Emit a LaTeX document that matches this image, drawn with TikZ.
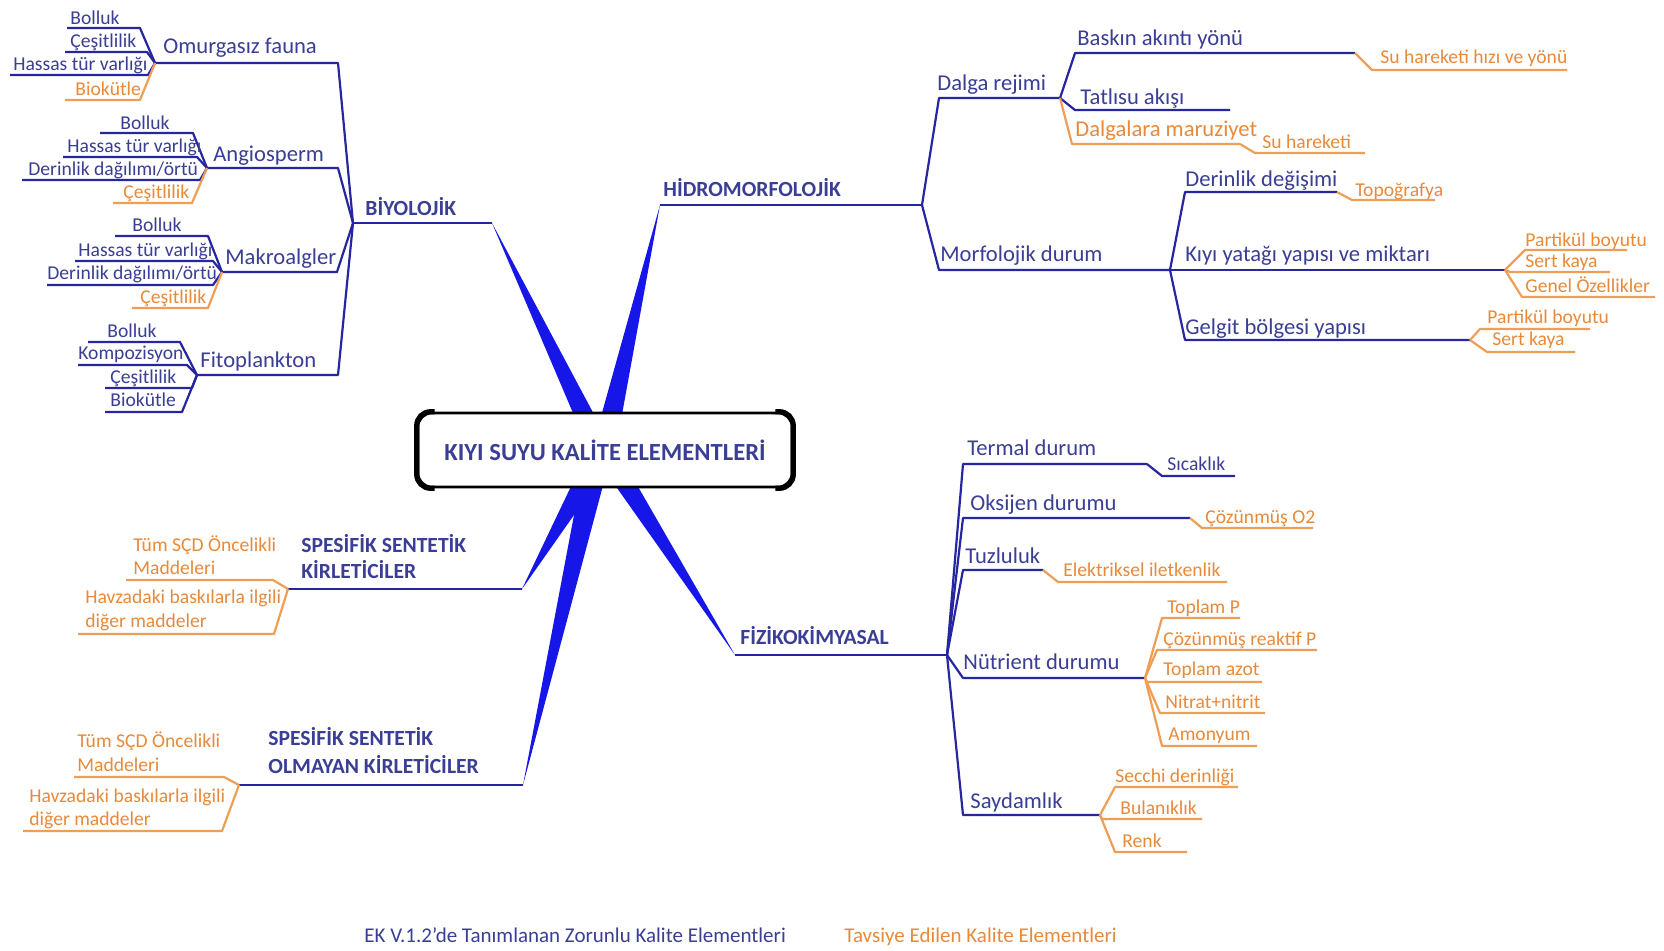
\documentclass[tikz,border=0pt]{standalone}
\usepackage{fontspec}
\setmainfont{Carlito}
\definecolor{tb}{RGB}{58,62,148}
\definecolor{to}{RGB}{232,138,58}
\definecolor{lb}{RGB}{38,38,160}
\definecolor{lo}{RGB}{238,158,85}
\definecolor{wb}{RGB}{22,22,232}
\tikzset{
  lab/.style={inner sep=0pt, anchor=base west},
  bigb/.style={lab, font=\fontsize{11.3}{13}\selectfont, text=tb},
  bigo/.style={lab, font=\fontsize{11.3}{13}\selectfont, text=to},
  smb/.style={lab, font=\fontsize{9.8}{12}\selectfont, text=tb},
  smo/.style={lab, font=\fontsize{9.8}{12}\selectfont, text=to},
  topb/.style={lab, font=\bfseries\fontsize{10.8}{13}\selectfont, text=tb},
  bigb-l/.style={draw=lb, line width=1.1pt, line join=round},
  smb-l/.style={draw=lb, line width=1.1pt, line join=round},
  topb-l/.style={draw=lb, line width=1.1pt, line join=round},
  bigo-l/.style={draw=lo, line width=1.1pt, line join=round},
  smo-l/.style={draw=lo, line width=1.1pt, line join=round},
  wedge/.style={fill=wb},
  legend/.style={inner sep=0pt, anchor=base west, font=\fontsize{10.5}{12}\selectfont}
}
\newcommand\leftitem[9]{%
  \node[#2] (#1) at (#4,#5) {#6};
  \coordinate (#1-a) at (#7,#9);
  \coordinate (#1-b) at (#8,#9);
  \draw[#2-l] (#3) -- (#1-b) -- (#1-a);
}
\newcommand\rightitem[9]{%
  \node[#2] (#1) at (#4,#5) {#6};
  \coordinate (#1-a) at (#7,#9);
  \coordinate (#1-b) at (#8,#9);
  \draw[#2-l] (#3) -- (#1-a) -- (#1-b);
}
\begin{document}
\begin{tikzpicture}[x=0.5pt,y=-0.5pt]
\fill[white] (0,0) rectangle (1664,950);
\path[use as bounding box] (0,0) rectangle (1664,950);

% ---------- BIYOLOJIK ----------
\leftitem{bio}{topb}{bio-b}{365}{215}{BİYOLOJİK}{353}{492}{223}
\leftitem{omu}{bigb}{bio-a}{163}{53}{Omurgasız fauna}{155}{338}{63}
\leftitem{omu1}{smb}{omu-a}{70}{24}{Bolluk}{67}{140}{28}
\leftitem{omu2}{smb}{omu-a}{70}{47}{Çeşitlilik}{65}{147}{52}
\leftitem{omu3}{smb}{omu-a}{13}{70}{Hassas tür varlığı}{10}{148}{75}
\leftitem{omu4}{smo}{omu-a}{75}{95}{Biokütle}{65}{140}{100}

\leftitem{ang}{bigb}{bio-a}{213}{161}{Angiosperm}{207}{338}{168}
\leftitem{ang1}{smb}{ang-a}{120}{129}{Bolluk}{100}{193}{133}
\leftitem{ang2}{smb}{ang-a}{67}{152}{Hassas tür varlığı}{63}{197}{157}
\leftitem{ang3}{smb}{ang-a}{28}{175}{Derinlik dağılımı/örtü}{22}{200}{180}
\leftitem{ang4}{smo}{ang-a}{123}{198}{Çeşitlilik}{113}{192}{203}

\leftitem{mak}{bigb}{bio-a}{225}{264}{Makroalgler}{222}{337}{272}
\leftitem{mak1}{smb}{mak-a}{132}{231}{Bolluk}{115}{208}{236}
\leftitem{mak2}{smb}{mak-a}{78}{256}{Hassas tür varlığı}{75}{213}{261}
\leftitem{mak3}{smb}{mak-a}{47}{279}{Derinlik dağılımı/örtü}{47}{213}{285}
\leftitem{mak4}{smo}{mak-a}{140}{303}{Çeşitlilik}{132}{208}{308}

\leftitem{fit}{bigb}{bio-a}{200}{367}{Fitoplankton}{197}{338}{375}
\leftitem{fit1}{smb}{fit-a}{107}{337}{Bolluk}{88}{180}{342}
\leftitem{fit2}{smb}{fit-a}{78}{359}{Kompozisyon}{78}{187}{365}
\leftitem{fit3}{smb}{fit-a}{110}{383}{Çeşitlilik}{105}{192}{388}
\leftitem{fit4}{smb}{fit-a}{110}{406}{Biokütle}{105}{182}{412}

% ---------- SPESIFIK 1 ----------
\node[topb] (s1t) at (301,552) {SPESİFİK SENTETİK};
\leftitem{s1}{topb}{s1-b}{301}{578}{KİRLETİCİLER}{288}{522}{589}
\node[smo] (s1c1t) at (133,551) {Tüm SÇD Öncelikli};
\leftitem{s1c1}{smo}{s1-a}{133}{574}{Maddeleri}{126}{273}{580}
\node[smo] (s1c2t) at (85,603) {Havzadaki baskılarla ilgili};
\leftitem{s1c2}{smo}{s1-a}{85}{627}{diğer maddeler}{78}{274}{634}

% ---------- SPESIFIK 2 ----------
\node[topb] (s2t) at (268,745) {SPESİFİK SENTETİK};
\leftitem{s2}{topb}{s2-b}{268}{773}{OLMAYAN KİRLETİCİLER}{239}{523}{785}
\node[smo] (s2c1t) at (77,747) {Tüm SÇD Öncelikli};
\leftitem{s2c1}{smo}{s2-a}{77}{771}{Maddeleri}{74}{224}{777}
\node[smo] (s2c2t) at (29,802) {Havzadaki baskılarla ilgili};
\leftitem{s2c2}{smo}{s2-a}{29}{825}{diğer maddeler}{23}{222}{831}

% ---------- HIDROMORFOLOJIK ----------
\rightitem{hid}{topb}{hid-a}{663}{196}{HİDROMORFOLOJİK}{660}{922}{205}
\rightitem{dal}{bigb}{hid-b}{937}{90}{Dalga rejimi}{939}{1060}{98}
\rightitem{bas}{bigb}{dal-b}{1077}{45}{Baskın akıntı yönü}{1075}{1355}{53}
\rightitem{shy}{smo}{bas-b}{1380}{63}{Su hareketi hızı ve yönü}{1372}{1567}{70}
\rightitem{tat}{bigb}{dal-b}{1080}{104}{Tatlısu akışı}{1075}{1230}{110}
\rightitem{dmz}{bigo}{dal-b}{1075}{136}{Dalgalara maruziyet}{1072}{1240}{144}
\rightitem{shr}{smo}{dmz-b}{1262}{148}{Su hareketi}{1255}{1365}{153}
\rightitem{mor}{bigb}{hid-b}{940}{261}{Morfolojik durum}{939}{1170}{270}
\rightitem{der}{bigb}{mor-b}{1185}{186}{Derinlik değişimi}{1185}{1337}{192}
\rightitem{topo}{smo}{der-b}{1355}{196}{Topoğrafya}{1352}{1435}{200}
\rightitem{kiy}{bigb}{mor-b}{1185}{261}{Kıyı yatağı yapısı ve miktarı}{1170}{1505}{270}
\rightitem{kp}{smo}{kiy-b}{1525}{246}{Partikül boyutu}{1525}{1627}{250}
\rightitem{ks}{smo}{kiy-b}{1525}{267}{Sert kaya}{1510}{1610}{272}
\rightitem{kg}{smo}{kiy-b}{1525}{292}{Genel Özellikler}{1522}{1655}{297}
\rightitem{gel}{bigb}{mor-b}{1185}{334}{Gelgit bölgesi yapısı}{1185}{1470}{340}
\rightitem{gp}{smo}{gel-b}{1487}{323}{Partikül boyutu}{1480}{1590}{329}
\rightitem{gs}{smo}{gel-b}{1492}{345}{Sert kaya}{1487}{1575}{352}

% ---------- FIZIKOKIMYASAL ----------
\rightitem{fiz}{topb}{fiz-a}{740}{644}{FİZİKOKİMYASAL}{735}{947}{655}
\rightitem{ter}{bigb}{fiz-b}{967}{455}{Termal durum}{963}{1147}{464}
\rightitem{sic}{smb}{ter-b}{1167}{470}{Sıcaklık}{1162}{1235}{476}
\rightitem{oks}{bigb}{fiz-b}{970}{510}{Oksijen durumu}{963}{1190}{518}
\rightitem{coz}{smo}{oks-b}{1205}{523}{Çözünmüş O2}{1202}{1313}{528}
\rightitem{tuz}{bigb}{fiz-b}{965}{563}{Tuzluluk}{963}{1043}{570}
\rightitem{ele}{smo}{tuz-b}{1063}{576}{Elektriksel iletkenlik}{1058}{1227}{582}
\rightitem{nut}{bigb}{fiz-b}{963}{669}{Nütrient durumu}{963}{1145}{678}
\rightitem{nu1}{smo}{nut-b}{1167}{613}{Toplam P}{1162}{1240}{618}
\rightitem{nu2}{smo}{nut-b}{1163}{645}{Çözünmüş reaktif P}{1157}{1317}{650}
\rightitem{nu3}{smo}{nut-b}{1163}{675}{Toplam azot}{1147}{1262}{682}
\rightitem{nu4}{smo}{nut-b}{1165}{708}{Nitrat+nitrit}{1160}{1265}{713}
\rightitem{nu5}{smo}{nut-b}{1168}{740}{Amonyum}{1162}{1257}{746}
\rightitem{say}{bigb}{fiz-b}{970}{808}{Saydamlık}{963}{1100}{815}
\rightitem{sy1}{smo}{say-b}{1115}{782}{Secchi derinliği}{1115}{1238}{787}
\rightitem{sy2}{smo}{say-b}{1120}{814}{Bulanıklık}{1102}{1202}{819}
\rightitem{sy3}{smo}{say-b}{1122}{847}{Renk}{1115}{1187}{852}

% ---------- wedges to centre ----------
\coordinate (wbio1) at (576,420); \coordinate (wbio2) at (597,420);
\coordinate (whid1) at (600,420); \coordinate (whid2) at (621,420);
\coordinate (ws11) at (575,478);  \coordinate (ws12) at (600,478);
\coordinate (ws21) at (581,478);  \coordinate (ws22) at (605,478);
\coordinate (wfiz1) at (610,478); \coordinate (wfiz2) at (633,478);
\fill[wedge] (bio-b) -- (wbio1) -- (wbio2) -- cycle;
\fill[wedge] (hid-a) -- (whid1) -- (whid2) -- cycle;
\fill[wedge] (s1-b) -- (ws11) -- (ws12) -- cycle;
\fill[wedge] (s2-b) -- (ws21) -- (ws22) -- cycle;
\fill[wedge] (fiz-a) -- (wfiz1) -- (wfiz2) -- cycle;

% ---------- centre box ----------
\node[draw=black, line width=1.3pt, rounded corners=7pt, fill=white,
      minimum width=187pt, minimum height=37pt, inner sep=0pt,
      font=\bfseries\fontsize{12.3}{14}\selectfont, text=tb] (center) at (605,450)
      {KIYI SUYU KALİTE ELEMENTLERİ};
\draw[line width=2.6pt, rounded corners=7pt]
  ([xshift=9pt]center.north west) -- (center.north west) -- (center.south west) -- ([xshift=9pt]center.south west);
\draw[line width=2.6pt, rounded corners=7pt]
  ([xshift=-9pt]center.north east) -- (center.north east) -- (center.south east) -- ([xshift=-9pt]center.south east);

% ---------- legend ----------
\node[legend, text=tb] (leg1) at (364,942) {EK V.1.2'de Tanımlanan Zorunlu Kalite Elementleri};
\node[legend, text=to] (leg2) at (844,942) {Tavsiye Edilen Kalite Elementleri};
\end{tikzpicture}
\end{document}
